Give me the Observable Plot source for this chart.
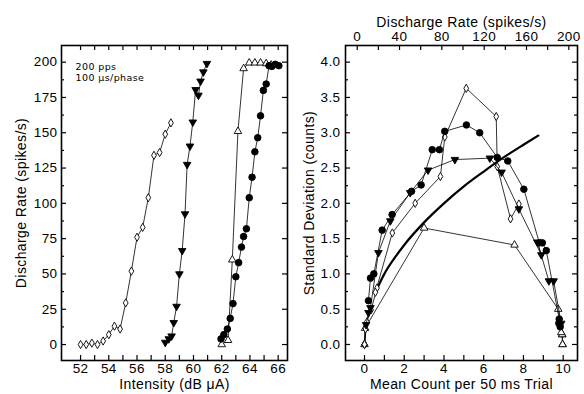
<!DOCTYPE html>
<html><head><meta charset="utf-8">
<script src="https://cdn.jsdelivr.net/npm/d3@7"></script>
<script src="https://cdn.jsdelivr.net/npm/@observablehq/plot@0.6"></script>
<style>
body{margin:0;background:#fff;}
#row{display:flex;width:584px;height:394px;overflow:hidden;}
</style></head><body><div id="row"></div>
<script>
// ---------- Left panel: rate vs intensity ----------
const diamondDb   = [52.0,52.4,52.8,53.2,53.6,54.0,54.4,54.8,55.2,55.6,56.0,56.4,56.8,57.2,57.6,58.0,58.4];
const diamondRate = [0,0,1,0,2.5,7,13,11,29.5,52,76,83,104,134,136,149,157];
const triDownDb   = [58.0,58.25,58.45,58.6,58.8,59.0,59.2,59.4,59.55,59.75,59.95,60.15,60.35,60.5,60.7,60.95];
const triDownRate = [1.5,4,6,15.5,27,50,66.5,92.5,127.5,140.5,157.5,180.5,176.5,186.5,193,199];
const triUpDb     = [62.0,62.45,62.75,63.15,63.55,63.95,64.35,64.75,65.15,65.5];
const triUpRate   = [0,3,60,151,195.5,199.5,199.5,199.5,199,198];
const circleDb    = [61.95,62.15,62.4,62.6,62.8,63.0,63.2,63.4,63.55,63.75,63.95,64.15,64.35,64.55,64.75,64.95,65.15,65.35,65.55,65.8,66.05];
const circleRate  = [4,7,11,18.5,29,48,58,69,76.5,82,104,118.5,136.5,146.5,162,180,184.5,197.5,197,198.5,197.5];

const dbTicks = [52,53,54,55,56,57,58,59,60,61,62,63,64,65,66];
const dbLabels = [52,54,56,58,60,62,64,66];
const rateLabels = [0,25,50,75,100,125,150,175,200];
const rateMinor = [12.5,37.5,62.5,87.5,112.5,137.5,162.5,187.5];

// ---------- Right panel: SD vs mean count ----------
const rDiamondCount = [0,0,0.05,0,0.12,0.33,0.63,0.55,1.4,2.55,3.82,4.04,5.12,6.63,6.68,7.35,7.77];
const rDiamondSd    = [0,0,0.22,0,0.32,0.49,0.8,0.74,1.58,2.0,2.38,2.94,3.63,3.23,2.52,1.78,1.99];
const rTriDownCount = [0.08,0.2,0.3,0.7,1.3,2.3,3.2,4.55,6.31,6.9,7.77,8.9,8.7,9.28,9.52,9.9];
const rTriDownSd    = [0.28,0.45,0.52,1.3,1.75,2.15,2.47,2.62,2.64,2.44,1.92,1.27,1.45,0.9,0.9,0.3];
const rTriUpCount   = [0,0.03,3.0,7.55,9.75,9.95,9.97,9.97,9.95,9.9];
const rTriUpSd      = [0,0.23,1.65,1.41,0.5,0.14,0,0,0.14,0.17];
const rCircleCount  = [0.2,0.3,0.47,0.89,1.39,2.37,2.85,3.41,3.77,4.04,5.13,5.8,6.68,7.21,8.02,8.8,8.95,9.15,9.8,9.78,9.85];
const rCircleSd     = [0.62,0.94,1.0,1.62,1.84,2.17,2.26,2.76,2.76,3.02,3.11,3.0,2.65,2.6,2.2,1.44,1.44,1.33,0.36,0.3,0.25];
const boldCount = [0.6,1,1.5,2,3,4,5,6,7,8,8.75];
const boldSd    = [0.77,1.0,1.22,1.41,1.73,2.0,2.24,2.45,2.65,2.83,2.96];

const countTicks = [0,1,2,3,4,5,6,7,8,9,10];
const countLabels = [0,2,4,6,8,10];
const sdLabels = [0,0.5,1,1.5,2,2.5,3,3.5,4];
const sdMinor = [0.25,0.75,1.25,1.75,2.25,2.75,3.25,3.75];
const topRateTicks = [0,20,40,60,80,100,120,140,160,180,200];
const topRateLabels = [0,40,80,120,160,200];
// top axis is drawn slightly offset from the count axis in the original
const rateToCount = r => -0.367 + r * 0.05325;

const FONT = "'Liberation Sans', Arial, sans-serif";
const FS = 14, TFS = 13.5;
const H = 394, MT = 45, MB = 34, FH = H - MT - MB;
const zip = (xs, ys) => xs.map((x, i) => ({x, y: ys[i]}));
const STYLE = {fontFamily: FONT, fontSize: TFS + "px", letterSpacing: "0.4px", color: "black", background: "white", overflow: "visible"};

function ticksX(values, len) {
  return [
    Plot.ruleX(values, {x: d => d, insetTop: FH - len, stroke: "black", strokeWidth: 1.2}),
    Plot.ruleX(values, {x: d => d, insetBottom: FH - len, stroke: "black", strokeWidth: 1.2})
  ];
}
function ticksY(values, fw, len, bothSides = true) {
  const m = [Plot.ruleY(values, {y: d => d, insetRight: fw - len, stroke: "black", strokeWidth: 1.2})];
  if (bothSides) m.push(Plot.ruleY(values, {y: d => d, insetLeft: fw - len, stroke: "black", strokeWidth: 1.2}));
  return m;
}
function series(data, symbol, fill, r, rotate = 0) {
  return [
    Plot.line(data, {x: "x", y: "y", stroke: "black", strokeWidth: 0.8}),
    Plot.dot(data, {x: "x", y: "y", symbol, fill, stroke: "black", strokeWidth: 0.9, r, rotate})
  ];
}

// Left
const WL = 292, MLL = 61, MRL = 5, FWL = WL - MLL - MRL;
const left = Plot.plot({
  width: WL, height: H, marginLeft: MLL, marginRight: MRL, marginTop: MT, marginBottom: MB,
  style: STYLE,
  x: {domain: [50.65, 66.66]},
  y: {domain: [-11.3, 211.8]},
  marks: [
    Plot.frame({stroke: "black", strokeWidth: 1.6}),
    ...ticksX(dbTicks, 5),
    ...ticksY(rateLabels, FWL, 5),
    ...ticksY(rateMinor, FWL, 3, false),
    Plot.axisX({anchor: "bottom", ticks: dbLabels, tickSize: 0, tickPadding: 3, label: null}),
    Plot.axisY({anchor: "left", ticks: rateLabels, tickSize: 0, tickPadding: 4, label: null}),
    Plot.text(["Intensity (dB μA)"], {frameAnchor: "bottom", dy: 28, textAnchor: "middle", fontSize: FS}),
    Plot.text(["Discharge Rate (spikes/s)"], {frameAnchor: "left", dx: -40, textAnchor: "middle", rotate: -90, fontSize: FS}),
    Plot.text(["200 pps\n100 μs/phase"], {frameAnchor: "top-left", dx: 14, dy: 17, textAnchor: "start", lineAnchor: "top", fontSize: 9.5, fontFamily: "'DejaVu Sans', sans-serif", lineHeight: 1.15, fill: "black"}),
    ...series(zip(diamondDb, diamondRate), "diamond", "white", 2.5),
    ...series(zip(triDownDb, triDownRate), "triangle", "black", 2.8, 180),
    ...series(zip(triUpDb, triUpRate), "triangle", "white", 2.8),
    ...series(zip(circleDb, circleRate), "circle", "black", 3.3)
  ]
});

// Right
const WR = 292, MLR = 53, MRR = 7, FWR = WR - MLR - MRR;
const right = Plot.plot({
  width: WR, height: H, marginLeft: MLR, marginRight: MRR, marginTop: MT, marginBottom: MB,
  style: STYLE,
  x: {domain: [-0.956, 10.72]},
  y: {domain: [-0.227, 4.236]},
  marks: [
    Plot.frame({stroke: "black", strokeWidth: 1.6}),
    Plot.ruleX(countTicks, {x: d => d, insetTop: FH - 5, stroke: "black", strokeWidth: 1.2}),
    Plot.ruleX(topRateTicks, {x: rateToCount, insetBottom: FH - 5, stroke: "black", strokeWidth: 1.2}),
    ...ticksY(sdLabels, FWR, 5),
    ...ticksY(sdMinor, FWR, 3),
    Plot.axisX({anchor: "bottom", ticks: countLabels, tickSize: 0, tickPadding: 3, label: null}),
    Plot.axisY({anchor: "left", ticks: sdLabels, tickSize: 0, tickPadding: 5, tickFormat: d3.format(".1f"), label: null}),
    Plot.text(topRateLabels, {x: rateToCount, text: d => String(d), frameAnchor: "top", dy: -5, lineAnchor: "bottom", fontSize: TFS}),
    Plot.text(["Discharge Rate (spikes/s)"], {frameAnchor: "top", dy: -19, lineAnchor: "bottom", textAnchor: "middle", fontSize: FS}),
    Plot.text(["Mean Count per 50 ms Trial"], {frameAnchor: "bottom", dy: 28, textAnchor: "middle", fontSize: FS}),
    Plot.text(["Standard Deviation (counts)"], {frameAnchor: "left", dx: -36, textAnchor: "middle", rotate: -90, fontSize: FS}),
    Plot.line(zip(boldCount, boldSd), {x: "x", y: "y", stroke: "black", strokeWidth: 2.2, curve: "monotone-x"}),
    ...series(zip(rTriUpCount, rTriUpSd), "triangle", "white", 2.8),
    ...series(zip(rDiamondCount, rDiamondSd), "diamond", "white", 2.5),
    ...series(zip(rTriDownCount, rTriDownSd), "triangle", "black", 2.8, 180),
    ...series(zip(rCircleCount, rCircleSd), "circle", "black", 3.3)
  ]
});

document.getElementById("row").append(left, right);
</script></body></html>
